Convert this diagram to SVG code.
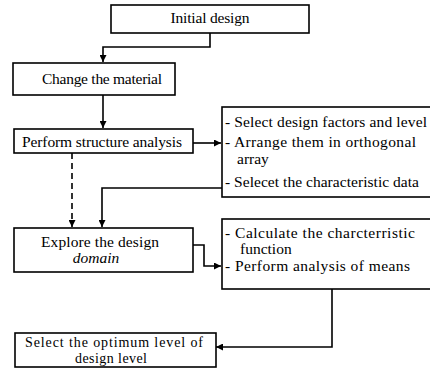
<svg xmlns="http://www.w3.org/2000/svg" width="430" height="368" viewBox="0 0 430 368">
  <style>
    .box { fill: #ffffff; stroke: #000000; stroke-width: 1.6; }
    .lbl { font-family: "Liberation Serif", "Times New Roman", serif; font-size: 15.5px; fill: #000000; }
    .small { font-size: 14px; }
    .mid { text-anchor: middle; }
    .wire { fill: none; stroke: #000000; stroke-width: 1.6; }
    .dash { stroke-dasharray: 6 4; }
  </style>
  <defs>
    <marker id="arrow" viewBox="0 0 10 10" refX="10" refY="5" markerWidth="7" markerHeight="7" markerUnits="userSpaceOnUse" orient="auto">
      <path d="M0,0 L10,5 L0,10 z" fill="#000000"/>
    </marker>
  </defs>
  <rect width="430" height="368" fill="#ffffff"/>

  <g id="connectors">
    <path class="wire" d="M210,33 V47 H103 V62" marker-end="url(#arrow)"/>
    <path class="wire" d="M103,95 V128" marker-end="url(#arrow)"/>
    <path class="wire" d="M193,143 H221" marker-end="url(#arrow)"/>
    <path class="wire dash" d="M72,153 V227" marker-end="url(#arrow)"/>
    <path class="wire" d="M222,188 H102 V227" marker-end="url(#arrow)"/>
    <path class="wire" d="M193,245 H204 V266 H221" marker-end="url(#arrow)"/>
    <path class="wire" d="M332,289 V347 H216" marker-end="url(#arrow)"/>
  </g>

  <g id="initial-design">
    <rect class="box" x="111" y="5" width="198" height="28"/>
    <text class="lbl mid" x="210" y="23" textLength="79" lengthAdjust="spacing">Initial design</text>
  </g>

  <g id="change-material">
    <rect class="box" x="13" y="63" width="162" height="32"/>
    <text class="lbl mid" x="102" y="84" textLength="120" lengthAdjust="spacing">Change the material</text>
  </g>

  <g id="structure-analysis">
    <rect class="box" x="14" y="129" width="179" height="24"/>
    <text class="lbl mid" x="102" y="147" textLength="160" lengthAdjust="spacing">Perform structure analysis</text>
  </g>

  <g id="design-factors">
    <rect class="box" x="222" y="107" width="214" height="90"/>
    <text class="lbl" x="225" y="127" textLength="202" lengthAdjust="spacing">- Select design factors and level</text>
    <text class="lbl" x="225" y="147" textLength="191" lengthAdjust="spacing">- Arrange them in orthogonal</text>
    <text class="lbl" x="237" y="164">array</text>
    <text class="lbl" x="225" y="187" textLength="194" lengthAdjust="spacing">- Selecet the characteristic data</text>
  </g>

  <g id="explore-domain">
    <rect class="box" x="14" y="228" width="179" height="44"/>
    <text class="lbl mid" x="100" y="247" textLength="118" lengthAdjust="spacing">Explore the design</text>
    <text class="lbl mid" x="96" y="263" font-style="italic">domain</text>
  </g>

  <g id="characteristic-function">
    <rect class="box" x="222" y="219" width="214" height="70"/>
    <text class="lbl" x="225" y="238" textLength="190" lengthAdjust="spacing">- Calculate the charcterristic</text>
    <text class="lbl" x="240" y="254">function</text>
    <text class="lbl" x="225" y="271" textLength="185" lengthAdjust="spacing">- Perform analysis of means</text>
  </g>

  <g id="optimum-level">
    <rect class="box" x="15" y="333" width="201" height="34"/>
    <text class="lbl small mid" x="114" y="347" textLength="178" lengthAdjust="spacing">Select the optimum level of</text>
    <text class="lbl small mid" x="111" y="363" textLength="72" lengthAdjust="spacing">design level</text>
  </g>
</svg>
